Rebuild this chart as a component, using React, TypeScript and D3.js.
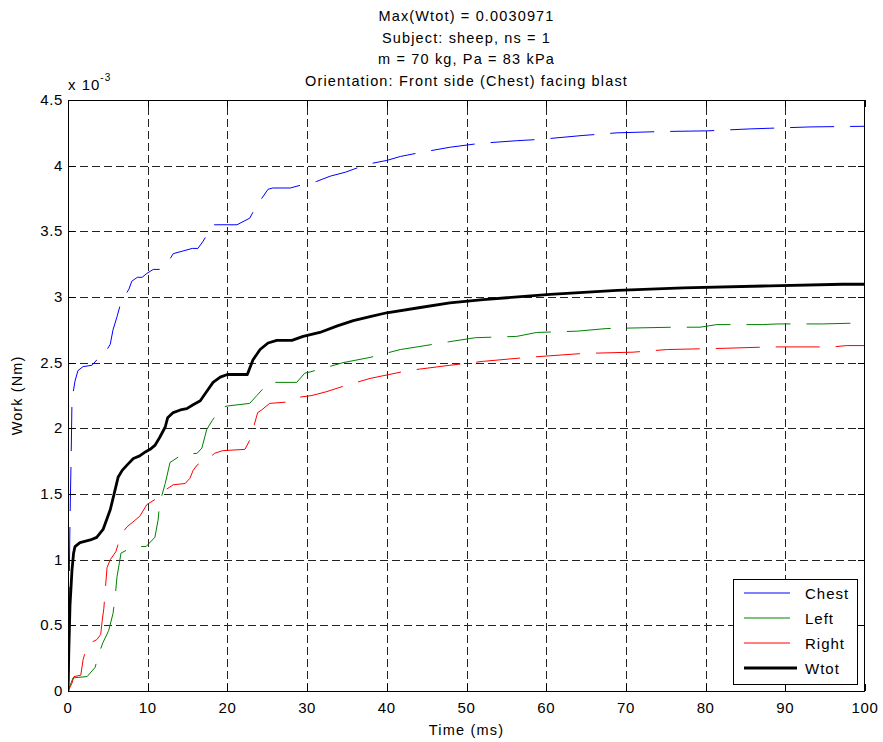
import React, { useRef, useEffect } from 'react';
import * as d3 from 'd3';

// Work (x 10^-3 Nm) against time (ms)
const chestTime = [0, 0.1, 0.15, 0.25, 0.4, 0.5, 0.88, 1.25, 1.9, 3.0, 3.6, 4.3, 5.3, 5.65, 6.15, 6.65, 7.65, 8.0, 8.7, 9.3, 9.9, 10.7, 11.7, 12.7, 13.2, 14.4, 15.6, 16.3, 16.9, 17.6, 18.2, 21.2, 22.8, 23.7, 24.3, 25.1, 25.7, 27.9, 29.1, 31.2, 32.9, 34.8, 37.5, 40, 41.7, 44.2, 47.9, 51.7, 56.3, 59.2, 64.6, 68.9, 74.5, 80.2, 85.6, 93.1, 100];
const chestWork = [0, 0.08, 0.8, 1.3, 1.8, 2.22, 2.36, 2.44, 2.47, 2.48, 2.52, 2.54, 2.64, 2.75, 2.85, 2.96, 3.06, 3.12, 3.15, 3.15, 3.18, 3.21, 3.21, 3.28, 3.33, 3.35, 3.37, 3.37, 3.42, 3.49, 3.55, 3.55, 3.6, 3.7, 3.75, 3.82, 3.83, 3.83, 3.85, 3.88, 3.92, 3.95, 4.01, 4.04, 4.07, 4.1, 4.14, 4.17, 4.19, 4.2, 4.23, 4.25, 4.26, 4.265, 4.28, 4.295, 4.3];

const leftTime = [0, 0.63, 2.4, 3.4, 3.9, 4.4, 5.1, 5.65, 5.9, 6.15, 6.65, 8.2, 9.8, 10.9, 11.3, 11.5, 12.2, 12.8, 14.3, 16.2, 16.8, 17.4, 18.1, 19.3, 20, 22.8, 23.7, 25.2, 28.7, 29.7, 30.4, 32.2, 34.5, 37.9, 41.7, 43.8, 47.9, 51.1, 56.3, 58.8, 63.9, 67.6, 75.9, 79.3, 81.4, 87.1, 89.1, 94.7, 98.1, 100];
const leftWork = [0, 0.1, 0.11, 0.18, 0.29, 0.37, 0.46, 0.59, 0.71, 0.87, 1.05, 1.1, 1.1, 1.17, 1.3, 1.43, 1.58, 1.74, 1.8, 1.81, 1.85, 1.99, 2.06, 2.16, 2.17, 2.19, 2.25, 2.35, 2.35, 2.42, 2.43, 2.46, 2.5, 2.54, 2.6, 2.62, 2.66, 2.69, 2.7, 2.73, 2.74, 2.76, 2.77, 2.77, 2.79, 2.79, 2.795, 2.795, 2.8, 2.8];

const rightTime = [0, 0.5, 0.75, 1.6, 1.9, 2.4, 2.9, 3.6, 4.1, 4.3, 4.5, 4.65, 4.9, 5.3, 6.0, 6.65, 7.4, 8.4, 9.0, 9.9, 11.5, 12.2, 13.2, 14.7, 15.3, 15.7, 16.2, 16.9, 17.8, 18.4, 19.4, 22.2, 22.8, 23.2, 23.8, 24.3, 25.3, 27.5, 28.2, 30.6, 32.5, 34.5, 37.9, 42.7, 47.9, 52.1, 57.6, 64.6, 70.9, 75.2, 82.7, 88.1, 95.9, 97.7, 100];
const rightWork = [0, 0.06, 0.11, 0.12, 0.24, 0.35, 0.37, 0.39, 0.43, 0.54, 0.63, 0.75, 0.94, 1.0, 1.06, 1.19, 1.25, 1.3, 1.33, 1.42, 1.48, 1.53, 1.57, 1.58, 1.62, 1.68, 1.72, 1.75, 1.78, 1.81, 1.83, 1.84, 1.91, 1.99, 2.12, 2.14, 2.19, 2.2, 2.23, 2.25, 2.28, 2.32, 2.38, 2.44, 2.48, 2.51, 2.54, 2.57, 2.58, 2.6, 2.61, 2.62, 2.62, 2.63, 2.63];

const wtotTime = [0, 0.1, 0.25, 0.5, 0.7, 0.88, 1.5, 2.8, 3.6, 4.4, 5.3, 5.9, 6.3, 6.8, 7.4, 8.2, 9.0, 9.7, 10.3, 10.9, 11.5, 12.2, 12.5, 13.2, 14.1, 14.9, 15.7, 16.6, 17.4, 18.2, 19.1, 20, 22.5, 23.2, 24.1, 25.1, 26.2, 28.1, 29.5, 31.6, 33.8, 35.8, 37.9, 40, 44.2, 47.9, 52.1, 60.5, 68.9, 77.2, 88.1, 97.2, 100];
const wtotWork = [0, 0.3, 0.65, 0.92, 1.05, 1.1, 1.13, 1.15, 1.17, 1.23, 1.38, 1.53, 1.63, 1.68, 1.72, 1.77, 1.79, 1.82, 1.84, 1.87, 1.93, 2.01, 2.08, 2.12, 2.14, 2.15, 2.18, 2.21, 2.28, 2.35, 2.39, 2.41, 2.41, 2.52, 2.6, 2.65, 2.67, 2.67, 2.7, 2.73, 2.78, 2.82, 2.85, 2.88, 2.92, 2.955, 2.98, 3.02, 3.05, 3.07, 3.085, 3.097, 3.0971];

const xTicks = [0, 10, 20, 30, 40, 50, 60, 70, 80, 90, 100];
const yTicks = [0, 0.5, 1, 1.5, 2, 2.5, 3, 3.5, 4, 4.5];
const titleLines = [
  'Max(Wtot) = 0.0030971',
  'Subject: sheep, ns = 1',
  'm = 70 kg, Pa = 83 kPa',
  'Orientation: Front side (Chest) facing blast',
];
const seriesNames = ['Chest', 'Left', 'Right', 'Wtot'];

const FONT = '"Liberation Sans", Arial, Helvetica, sans-serif';

const App: React.FC = () => {
  const ref = useRef<SVGSVGElement>(null);

  useEffect(() => {
    const svg = d3.select(ref.current);
    svg.selectAll('*').remove();

    const left = 68, right = 865, top = 100, bottom = 691;
    const x = d3.scaleLinear().domain([0, 100]).range([left, right]);
    const y = d3.scaleLinear().domain([0, 4.5]).range([bottom, top]);

    svg.append('rect').attr('width', 883).attr('height', 742).attr('fill', '#fff');

    // grid
    const grid = svg.append('g').attr('stroke', '#222').attr('stroke-width', 1)
      .attr('stroke-dasharray', '8,4').attr('shape-rendering', 'crispEdges');
    xTicks.slice(1, -1).forEach(t => {
      grid.append('line').attr('x1', Math.round(x(t)) + 0.5).attr('x2', Math.round(x(t)) + 0.5)
        .attr('y1', bottom).attr('y2', top);
    });
    yTicks.slice(1, -1).forEach(t => {
      grid.append('line').attr('y1', Math.round(y(t)) + 0.5).attr('y2', Math.round(y(t)) + 0.5)
        .attr('x1', left).attr('x2', right);
    });

    // series
    svg.append('clipPath').attr('id', 'plot-clip').append('rect')
      .attr('x', left).attr('y', top).attr('width', right - left).attr('height', bottom - top);
    const line = d3.line<[number, number]>().x(d => x(d[0])).y(d => y(d[1]));
    const series = [
      { t: chestTime, w: chestWork, color: '#0000ff', width: 1, dash: '44,16' },
      { t: leftTime, w: leftWork, color: '#008000', width: 1, dash: '44,16' },
      { t: rightTime, w: rightWork, color: '#ff0000', width: 1, dash: '44,16' },
      { t: wtotTime, w: wtotWork, color: '#000000', width: 2.8, dash: null },
    ];
    const plot = svg.append('g').attr('clip-path', 'url(#plot-clip)');
    series.forEach(s => {
      const pts = s.t.map((t, i) => [t, s.w[i]] as [number, number]);
      plot.append('path').attr('d', line(pts))
        .attr('fill', 'none').attr('stroke', s.color).attr('stroke-width', s.width)
        .attr('stroke-linejoin', 'round')
        .attr('stroke-dasharray', s.dash);
    });

    // box and ticks
    const axes = svg.append('g').attr('stroke', '#000').attr('stroke-width', 1)
      .attr('shape-rendering', 'crispEdges');
    axes.append('rect').attr('x', left + 0.5).attr('y', top + 0.5)
      .attr('width', right - left - 1).attr('height', bottom - top).attr('fill', 'none');
    xTicks.forEach(t => {
      const px = Math.round(x(t)) + 0.5;
      axes.append('line').attr('x1', px).attr('x2', px).attr('y1', bottom).attr('y2', bottom - 7);
      axes.append('line').attr('x1', px).attr('x2', px).attr('y1', top).attr('y2', top + 7);
    });
    yTicks.forEach(t => {
      const py = Math.round(y(t)) + 0.5;
      axes.append('line').attr('y1', py).attr('y2', py).attr('x1', left).attr('x2', left + 7);
      axes.append('line').attr('y1', py).attr('y2', py).attr('x1', right).attr('x2', right - 7);
    });

    const txt = svg.append('g').attr('font-family', FONT).attr('fill', '#000');
    xTicks.forEach(t => {
      txt.append('text').attr('x', x(t)).attr('y', bottom + 22).attr('text-anchor', 'middle')
        .attr('font-size', 15).attr('letter-spacing', 0.6).text(t);
    });
    yTicks.forEach(t => {
      txt.append('text').attr('x', left - 5).attr('y', y(t) + 5).attr('text-anchor', 'end')
        .attr('font-size', 15).attr('letter-spacing', 0.6).text(t);
    });
    // exponent label
    const ex = txt.append('text').attr('x', left).attr('y', top - 10).attr('font-size', 15)
      .attr('letter-spacing', 1);
    ex.append('tspan').text('x 10');
    ex.append('tspan').attr('dy', -9).attr('font-size', 10).text('-3');

    titleLines.forEach((s, i) => {
      txt.append('text').attr('x', (left + right) / 2).attr('y', 21 + i * 21.5)
        .attr('text-anchor', 'middle').attr('font-size', 14.5).attr('letter-spacing', 1.15).text(s);
    });
    txt.append('text').attr('x', (left + right) / 2).attr('y', 735)
      .attr('text-anchor', 'middle').attr('font-size', 14.5).attr('letter-spacing', 1.2).text('Time (ms)');
    txt.append('text').attr('transform', `translate(22,${(top + bottom) / 2}) rotate(-90)`)
      .attr('text-anchor', 'middle').attr('font-size', 14.5).attr('letter-spacing', 1.1).text('Work (Nm)');

    // legend
    const lg = svg.append('g');
    lg.append('rect').attr('x', 733.5).attr('y', 579.5).attr('width', 124).attr('height', 105)
      .attr('fill', '#fff').attr('stroke', '#000').attr('stroke-width', 1);
    seriesNames.forEach((name, i) => {
      const cy = 593 + i * 25;
      lg.append('line').attr('x1', 744).attr('x2', i === 3 ? 797 : 790).attr('y1', cy).attr('y2', cy)
        .attr('stroke', series[i].color).attr('stroke-width', series[i].width);
      lg.append('text').attr('x', 805).attr('y', cy + 5.5).attr('font-family', FONT)
        .attr('font-size', 15).attr('letter-spacing', 1).text(name);
    });
  }, []);

  return (
    <svg ref={ref} width={883} height={742}
      style={{ position: 'absolute', left: 0, top: 0, display: 'block' }} />
  );
};

export default App;
